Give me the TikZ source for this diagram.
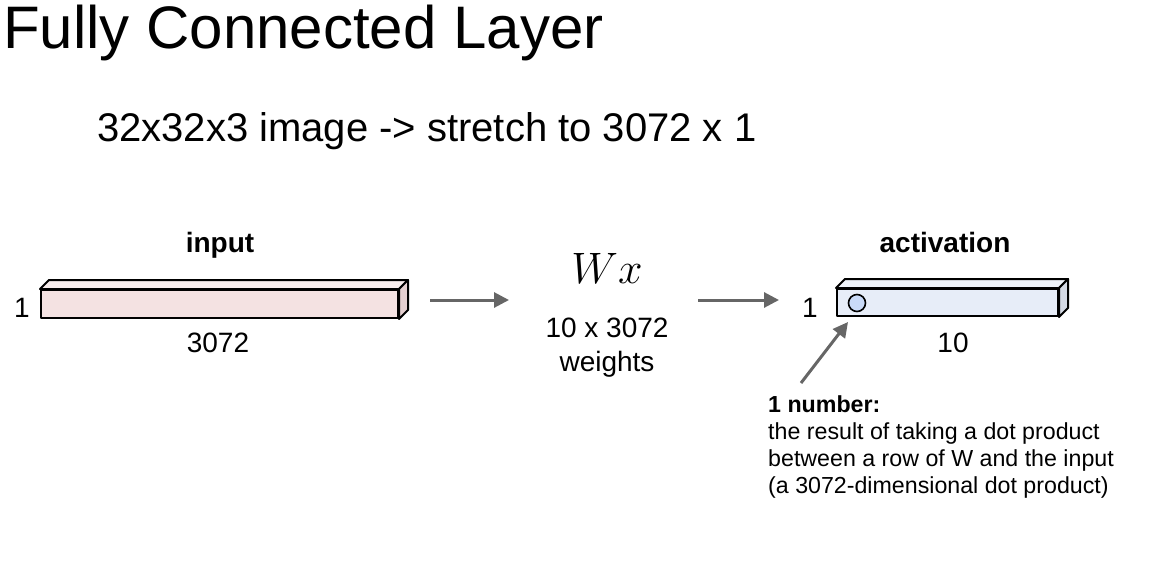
\documentclass[tikz,border=0pt]{standalone}
\usepackage{fix-cm}
\usepackage{fontspec}
\setmainfont{Liberation Sans}
\usetikzlibrary{arrows.meta,positioning}
\definecolor{fcPink}{HTML}{F4E2E2}
\definecolor{fcPinkTop}{HTML}{F8EDED}
\definecolor{fcPinkSide}{HTML}{E4CFD0}
\definecolor{fcBlue}{HTML}{E7EDF8}
\definecolor{fcBlueTop}{HTML}{EFF3FA}
\definecolor{fcBlueSide}{HTML}{D4D9E4}
\definecolor{fcDot}{HTML}{C9DAF8}
\definecolor{fcGray}{HTML}{666666}
\tikzset{
  fc face/.style={draw=black, line width=2pt, line join=round},
  fc bar/.style={rectangle, fc face, inner sep=0pt},
  fc dot/.style={circle, draw=black, line width=1.6pt, fill=fcDot, minimum size=17pt, inner sep=0pt},
  fc arrow/.style={draw=fcGray, line width=3pt, -{Triangle[length=15pt,width=15pt]}},
  fc label/.style={font=\fontsize{28}{32}\selectfont, inner sep=0pt},
  fc bold/.style={font=\fontsize{28}{32}\selectfont\bfseries, inner sep=0pt},
}

\begin{document}
\begin{tikzpicture}[x=1pt,y=-1pt]
  \useasboundingbox (0,0) rectangle (1171,579);
  % headings
  \node[anchor=base west, inner sep=0pt, font=\fontsize{60}{70}\selectfont] (title) at (3,48) {Fully Connected Layer};
  \node[anchor=base west, inner sep=0pt, font=\fontsize{40}{48}\selectfont] (sub) at (97,141) {32x32x3 image -> stretch to 3072 x 1};

  % input bar
  \node[fc bar, fill=fcPink, minimum width=357pt, minimum height=28pt] (inbar) at (219.5,304) {};
  \draw[fc face, fill=fcPinkTop] (inbar.north west) -- ++(9,-9) -- ([shift={(9,-9)}]inbar.north east) -- (inbar.north east) -- cycle;
  \draw[fc face, fill=fcPinkSide] (inbar.north east) -- ++(9,-9) -- ([shift={(9,-9)}]inbar.south east) -- (inbar.south east) -- cycle;
  \node[fc bold, anchor=base] (inname) at (220,252) {input};
  \node[fc label, anchor=base] (inrows) at (22,317) {1};
  \node[fc label, anchor=base] (incols) at (218,352) {3072};

  % weights
  \node[anchor=base, inner sep=0pt, font=\fontsize{44}{50}\selectfont] (wx) at (607,283) {$Wx$};
  \node[fc label, anchor=base] (wsize) at (607,337) {10 x 3072};
  \node[fc label, anchor=base] (wname) at (607,371) {weights};

  % activation bar
  \node[fc bar, fill=fcBlue, minimum width=221pt, minimum height=27pt] (actbar) at (947.5,302.5) {};
  \draw[fc face, fill=fcBlueTop] (actbar.north west) -- ++(9,-9) -- ([shift={(9,-9)}]actbar.north east) -- (actbar.north east) -- cycle;
  \draw[fc face, fill=fcBlueSide] (actbar.north east) -- ++(9,-9) -- ([shift={(9,-9)}]actbar.south east) -- (actbar.south east) -- cycle;
  \node[fc dot] (unit) at (857,303) {};
  \node[fc bold, anchor=base] (actname) at (945,252) {activation};
  \node[fc label, anchor=base] (actrows) at (810,317) {1};
  \node[fc label, anchor=base] (actcols) at (953,352) {10};

  % arrows
  \coordinate (a1s) at (430,300);
  \coordinate (a1e) at (509,300);
  \coordinate (a2s) at (698,300);
  \coordinate (a2e) at (779,300);
  \coordinate (ptail) at (801,383);
  \coordinate (ptip) at (848,322);
  \draw[fc arrow] (a1s) -- (a1e);
  \draw[fc arrow] (a2s) -- (a2e);
  \draw[fc arrow] (ptail) -- (ptip);

  % note
  \node[anchor=north west, inner sep=0pt, align=left, font=\fontsize{23.2}{27.3}\selectfont] (note) at (768,395)
    {\textbf{1 number:}\\the result of taking a dot product\\between a row of W and the input\\(a 3072-dimensional dot product)};
\end{tikzpicture}
\end{document}
